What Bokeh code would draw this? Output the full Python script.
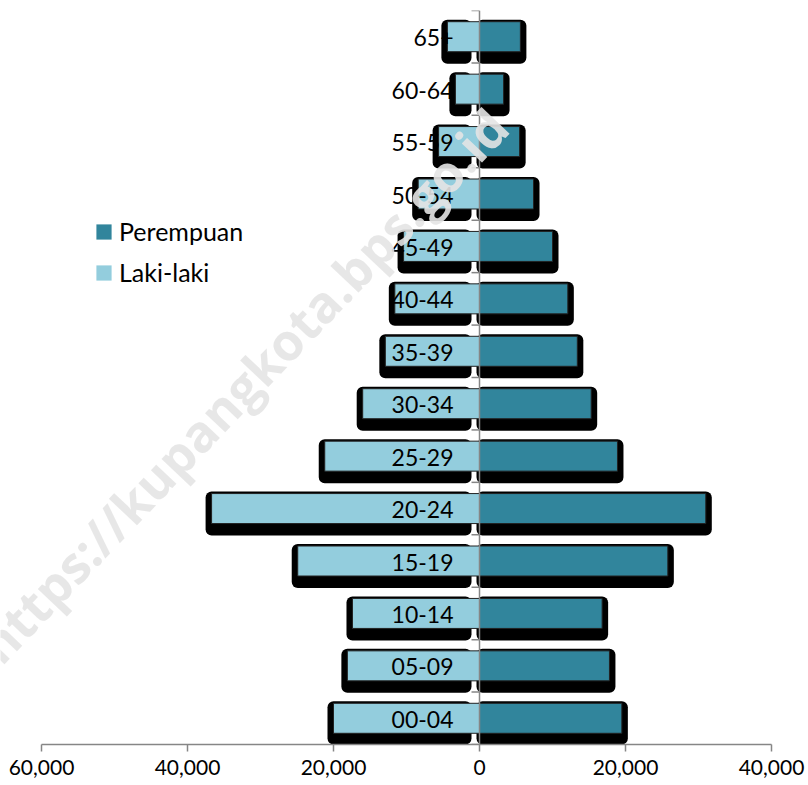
from bokeh.plotting import figure
from bokeh.models import Legend, LegendItem, FixedTicker, Span, Label, ColumnDataSource
from bokeh.embed import file_html
from bokeh.resources import INLINE
from bokeh.core.properties import value

# ---- data ----
AGE_GROUPS = ["00-04", "05-09", "10-14", "15-19", "20-24", "25-29", "30-34",
              "35-39", "40-44", "45-49", "50-54", "55-59", "60-64", "65+"]
LAKI_LAKI = [20000, 18100, 17400, 24900, 36700, 21200, 16000,
             12900, 11600, 10400, 8400, 5600, 3300, 4400]
PEREMPUAN = [19500, 17800, 16800, 25800, 31000, 18900, 15300,
             13400, 12100, 10000, 7400, 5500, 3300, 5600]
X_TICKS = [-60000, -40000, -20000, 0, 20000, 40000]
X_TICK_LABELS = ["60,000", "40,000", "20,000", "0", "20,000", "40,000"]
WATERMARK = "https://kupangkota.bps.go.id"

# ---- styles / layout ----
LIGHT = "#93CDDD"
DARK = "#31859C"
AXIS_GRAY = "#868686"
FONT = "Lato"

W, H = 808, 785
X_MIN, X_MAX = -60000, 40000
AXIS_LEFT_PX, AXIS_W_PX = 41, 730     # where the value axis sits on the page
TOP, FRAME_H = 10, 734
U = (X_MAX - X_MIN) / AXIS_W_PX        # data units per pixel along x
BAND = FRAME_H / len(AGE_GROUPS)       # pixels per category

idx = list(range(len(AGE_GROUPS)))
neg_laki = [-v for v in LAKI_LAKI]

src = ColumnDataSource(dict(
    y=idx,
    age=AGE_GROUPS,
    laki=neg_laki,
    perempuan=PEREMPUAN,
    sh_y=[i - 5 / BAND for i in idx],
    laki_sh=[v - 6 * U for v in neg_laki],
    perempuan_sh=[v + 6 * U for v in PEREMPUAN],
))

x_start = X_MIN - AXIS_LEFT_PX * U
x_end = X_MAX + (W - AXIS_LEFT_PX - AXIS_W_PX) * U

p = figure(width=W, height=H, output_backend="svg", toolbar_location=None,
           x_range=(x_start, x_end), y_range=(-0.5, len(AGE_GROUPS) - 0.5),
           y_axis_location=None, min_border_left=0, min_border_right=0,
           min_border_top=TOP, min_border_bottom=H - TOP - FRAME_H)
p.xgrid.visible = False
p.ygrid.visible = False
p.outline_line_color = None
p.background_fill_color = "white"

bar_h = 30 / BAND
sh_h = 44 / BAND

# shadows
p.hbar(y="sh_y", left="laki_sh", right=-8 * U, height=sh_h, source=src,
       fill_color="black", line_color=None, border_radius=6)
p.hbar(y="sh_y", left=-3 * U, right="perempuan_sh", height=sh_h, source=src,
       fill_color="black", line_color=None, border_radius=6)

# bars (fill), then thin outlines
r_m = p.hbar(y="y", left="laki", right=0, height=bar_h, source=src,
             fill_color=LIGHT, line_color=None)
r_f = p.hbar(y="y", left=0, right="perempuan", height=bar_h, source=src,
             fill_color=DARK, line_color=None)
p.hbar(y="y", left="laki", right=0, height=bar_h, source=src,
       fill_color=None, line_color="#222222", line_width=1)
p.hbar(y="y", left=0, right="perempuan", height=bar_h, source=src,
       fill_color=None, line_color="#222222", line_width=1)

# vertical axis at zero with category boundary ticks
p.add_layout(Span(location=0, dimension="height", line_color=AXIS_GRAY, line_width=1.5))
bounds = [i - 0.5 for i in range(len(AGE_GROUPS) + 1)]
p.segment(x0=[-8 * U] * len(bounds), x1=[0] * len(bounds), y0=bounds, y1=bounds,
          line_color=AXIS_GRAY, line_width=1.5)

# category labels
p.text(x=0, y="y", text="age", source=src, x_offset=-26, y_offset=1,
       text_align="right", text_baseline="middle",
       text_font=value(FONT), text_font_size="23px", text_color="black")

# x axis (line limited to the value range)
xa = p.xaxis[0]
xa.bounds = (X_MIN, X_MAX)
xa.ticker = FixedTicker(ticks=X_TICKS)
xa.major_label_overrides = {t: l for t, l in zip(X_TICKS, X_TICK_LABELS)}
xa.minor_tick_line_color = None
xa.major_tick_in = 0
xa.major_tick_out = 7
xa.major_label_standoff = 8
xa.axis_line_color = AXIS_GRAY
xa.axis_line_width = 1.5
xa.major_tick_line_color = AXIS_GRAY
xa.major_tick_line_width = 1.5
xa.major_label_text_font = FONT
xa.major_label_text_font_size = "21px"
xa.major_label_text_color = "black"

# legend
legend = Legend(items=[LegendItem(label="Perempuan", renderers=[r_f]),
                       LegendItem(label="Laki-laki", renderers=[r_m])],
                location=(94, 457), orientation="vertical",
                glyph_width=19, glyph_height=19, label_standoff=6, spacing=11,
                padding=0, margin=0, border_line_color=None,
                background_fill_alpha=0,
                label_text_font=FONT, label_text_font_size="25px",
                label_text_color="black")
p.add_layout(legend)

# watermark
p.add_layout(Label(x=x_start + 242 * U, y=(718 - 385) / BAND, text=WATERMARK,
                   angle=0.81, text_align="center", text_baseline="middle",
                   text_font="Open Sans", text_font_style="bold",
                   text_font_size="51px", text_color="#e4e4e4", text_alpha=0.9))

open("out.html", "w").write(file_html(p, INLINE))
